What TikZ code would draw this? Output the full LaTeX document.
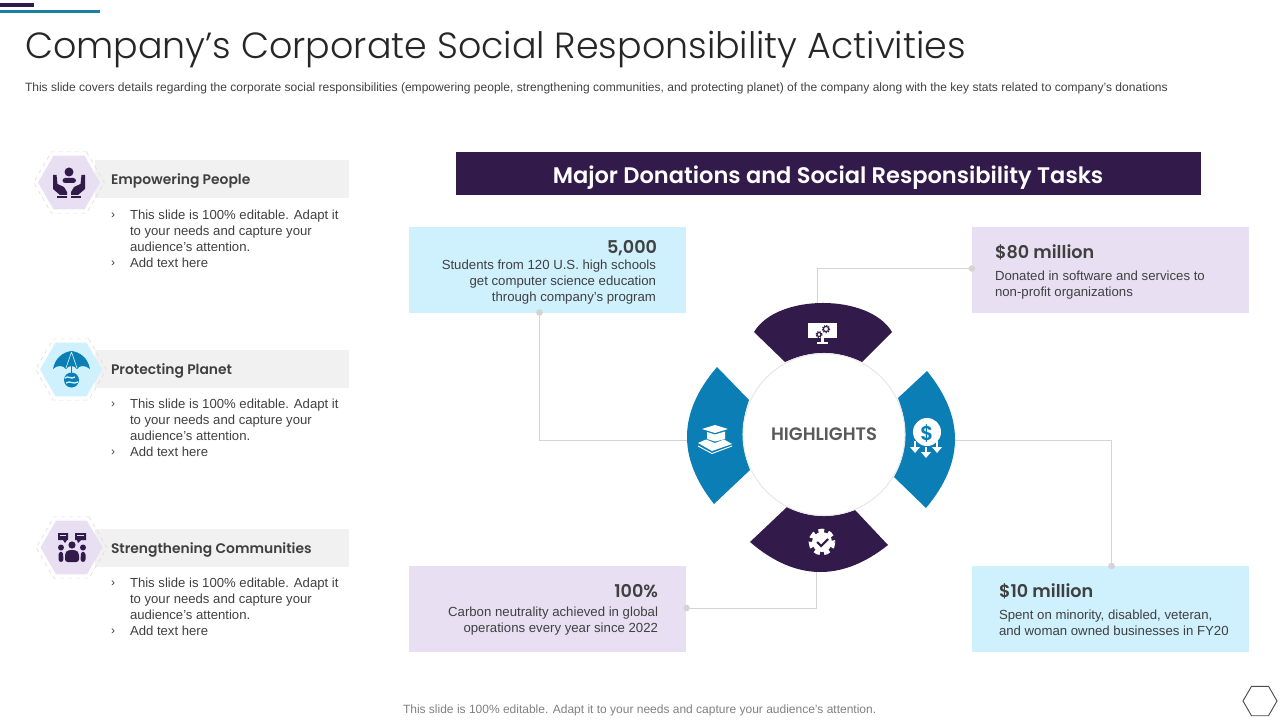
\documentclass[tikz,border=0pt]{standalone}
\usepackage{fontspec}
\setmainfont{Liberation Sans}
\newfontfamily\gothic{Poppins SemiBold}
\newfontfamily\gothicthin{Poppins Light}
\usetikzlibrary{shapes.geometric}
\definecolor{plum}{HTML}{321A4B}
\definecolor{seablue}{HTML}{0B7FB5}
\definecolor{teal2}{HTML}{1B7FA0}
\definecolor{skybox}{HTML}{CFF0FD}
\definecolor{lilac}{HTML}{E9DFF3}
\definecolor{barfill}{HTML}{F1F1F1}
\definecolor{inktxt}{HTML}{404040}
\definecolor{linkgray}{HTML}{D4D4D4}
\begin{document}
\begin{tikzpicture}[
  x=0.75pt, y=-0.75pt,
  every node/.style={inner sep=0pt, outer sep=0pt},
  bigbox/.style={minimum width=207.75pt, minimum height=64.5pt},
  headbar/.style={fill=barfill, minimum width=190.5pt, minimum height=28.5pt},
  hexfill/.style={regular polygon, regular polygon sides=6, minimum size=46.5pt},
  hexring/.style={regular polygon, regular polygon sides=6, minimum size=53pt, draw=black!13, dashed, line width=0.5pt},
  headtxt/.style={anchor=west, text=inktxt, font=\gothic\fontsize{10.4}{13}\selectfont},
  bodytxt/.style={anchor=north west, align=left, text=inktxt, font=\fontsize{9.85}{12}\selectfont},
  bullet/.style={anchor=west, text=inktxt, font=\fontsize{9}{12}\selectfont},
  stattxt/.style={text=inktxt, font=\gothic\fontsize{13.2}{16}\selectfont},
  boxtxt/.style={text=inktxt, font=\fontsize{9.9}{12}\selectfont},
  link/.style={draw=linkgray, line width=0.6pt},
  linkdot/.style={circle, fill=linkgray, minimum size=5pt}
]
\useasboundingbox (0,0) rectangle (1280,720);

% Corner bars
\fill[plum] (0,3) rectangle (34,7);
\fill[teal2] (0,10) rectangle (100,13);

% Title lines
\node[anchor=west, text=black!85, font=\gothicthin\fontsize{27.3}{32}\selectfont] (title) at (25,50) {Company’s Corporate Social Responsibility Activities};
\node[anchor=west, text=inktxt, font=\fontsize{9.03}{11}\selectfont] (subtitle) at (25,88) {This slide covers details regarding the corporate social responsibilities (empowering people, strengthening communities, and protecting planet) of the company along with the key stats related to company’s donations};

% Left column, first entry
\node[headbar] (peoplebar) at (222,179) {};
\node[hexring] (peoplering) at (69,182.5) {};
\node[hexfill, fill=lilac] (peoplehex) at (69,182.5) {};
\node[headtxt] (peoplehead) at (111,181) {Empowering People};
\node[bullet] (peoplea) at (111,215.5) {›};
\node[bullet] (peopleb) at (111,263.5) {›};
\node[bodytxt] (peopletxt) at (130,209.5) {This slide is 100\% editable. Adapt it\\to your needs and capture your\\audience's attention.\\Add text here};
\fill[plum] (69,172) circle (4.5);
\fill[plum, rounded corners=2pt] (62.5,183) -- (62.5,178) -- (76,178) -- (76,183) -- cycle;
\fill[plum] (53,175) -- (56.5,175) -- (57.5,184) -- (64,187) -- (67,192) -- (67,195) -- (60,195) -- (53,189) -- cycle;
\fill[plum] (85,175) -- (81.5,175) -- (80.5,184) -- (74,187) -- (71,192) -- (71,195) -- (78,195) -- (85,189) -- cycle;
\fill[plum] (57,196) rectangle (67,198);
\fill[plum] (71,196) rectangle (81,198);

% Left column, second entry
\node[headbar] (planetbar) at (222,369) {};
\node[hexring] (planetring) at (71,369.5) {};
\node[hexfill, fill=skybox] (planethex) at (71,369.5) {};
\node[headtxt] (planethead) at (111,371) {Protecting Planet};
\node[bullet] (planeta) at (111,404.5) {›};
\node[bullet] (planetb) at (111,452.5) {›};
\node[bodytxt] (planettxt) at (130,398.5) {This slide is 100\% editable. Adapt it\\to your needs and capture your\\audience's attention.\\Add text here};
\fill[seablue] (53,369) .. controls (55,358) and (63,352) .. (71.5,351) .. controls (80,352) and (88,358) .. (90,369) .. controls (85,365) and (80,365) .. (77,369) .. controls (74,365) and (69,365) .. (66,369) .. controls (63,365) and (57,365) .. (53,369) -- cycle;
\draw[skybox, line width=0.5pt] (71.5,352) -- (66,368) (71.5,352) -- (77,368);
\draw[seablue, line width=0.8pt] (71.5,366) -- (71.5,373);
\fill[seablue] (71.5,380) circle (7.5);
\draw[skybox, line width=1pt] (65,378) .. controls (68,375) and (71,380) .. (75,377) (66,383) .. controls (70,380) and (73,385) .. (78,382);

% Left column, third entry
\node[headbar] (peerbar) at (222,548) {};
\node[hexring] (peerring) at (71.5,547.5) {};
\node[hexfill, fill=lilac] (peerhex) at (71.5,547.5) {};
\node[headtxt] (peerhead) at (111,550) {Strengthening Communities};
\node[bullet] (peera) at (111,583.5) {›};
\node[bullet] (peerb) at (111,631.5) {›};
\node[bodytxt] (peertxt) at (130,577.5) {This slide is 100\% editable. Adapt it\\to your needs and capture your\\audience's attention.\\Add text here};
\fill[plum] (58,533) rectangle (68,540) (63,540) -- (67,540) -- (65,543) -- cycle;
\fill[plum] (75,533) rectangle (86,540) (77,540) -- (81,540) -- (78,543) -- cycle;
\draw[lilac, line width=0.6pt] (60,535.5) -- (66,535.5) (77,535.5) -- (84,535.5);
\fill[plum] (72,545) circle (3.6) (61,547.5) circle (3) (83,547.5) circle (3);
\fill[plum, rounded corners=2pt] (65,562) -- (65,553) -- (68,550) -- (76,550) -- (79,553) -- (79,562) -- cycle;
\fill[plum, rounded corners=2pt] (58.5,562) -- (58.5,552) -- (63,551.5) -- (63.5,562) -- cycle;
\fill[plum, rounded corners=2pt] (85.5,562) -- (85.5,552) -- (81,551.5) -- (80.5,562) -- cycle;

% Banner
\node[fill=plum, minimum width=558.75pt, minimum height=32.25pt] (banner) at (828.5,173.5) {};
\node[text=white, font=\gothic\fontsize{16.9}{20}\selectfont] (bannertxt) at (828,178) {Major Donations and Social Responsibility Tasks};

% Stat boxes
\node[bigbox, fill=skybox] (studentbox) at (547.5,270) {};
\node[bigbox, fill=lilac] (softwarebox) at (1110.5,270) {};
\node[bigbox, fill=lilac] (carbonbox) at (547.5,609) {};
\node[bigbox, fill=skybox] (minoritybox) at (1110.5,609) {};

\node[stattxt, anchor=east] (studentnum) at (657,248) {5,000};
\node[boxtxt, anchor=north east, align=right] (studenttxt) at (656,260) {Students from 120 U.S. high schools\\get computer science education\\through company’s program};
\node[stattxt, anchor=west] (softwarenum) at (995,252.5) {\$80 million};
\node[boxtxt, anchor=north west, align=left] (softwaretxt) at (995,271) {Donated in software and services to\\non-profit organizations};
\node[stattxt, anchor=east] (carbonnum) at (658,591.5) {100\%};
\node[boxtxt, anchor=north east, align=right] (carbontxt) at (658,607) {Carbon neutrality achieved in global\\operations every year since 2022};
\node[stattxt, anchor=west] (minoritynum) at (999,591.5) {\$10 million};
\node[boxtxt, anchor=north west, align=left] (minoritytxt) at (999,609.5) {Spent on minority, disabled, veteran,\\and woman owned businesses in FY20};

% Connector ends
\node[linkdot] (studentdot) at (539.5,312.5) {};
\node[linkdot] (softwaredot) at (972,268.5) {};
\node[linkdot] (carbondot) at (686.5,608) {};
\node[linkdot] (minoritydot) at (1111.5,566) {};
\coordinate (wheelleft) at (690,440.5);
\coordinate (wheeltop) at (817.5,305);
\coordinate (wheelright) at (952,440.5);
\coordinate (wheelbottom) at (816.5,570);

\draw[link] (studentdot) |- (wheelleft);
\draw[link] (wheeltop) |- (softwaredot);
\draw[link] (wheelright) -| (minoritydot);
\draw[link] (wheelbottom) |- (carbondot);

% Wheel segments
\fill[plum] (754,332) .. controls (777,293.3) and (869,293.3) .. (892,332) -- (862,362) .. controls (836,350) and (811,350) .. (785,362) -- cycle;
\fill[seablue] (717,367) .. controls (677.5,413) and (677.5,458) .. (714,504) -- (750,470) .. controls (740.8,447) and (740.8,423) .. (749,400) -- cycle;
\fill[seablue] (927,371) .. controls (964.5,417) and (964.5,462) .. (926,508) -- (894,477) .. controls (908,451) and (908,424) .. (898,398) -- cycle;
\fill[plum] (787,507) .. controls (810,518.5) and (832,518.5) .. (855,510) -- (888,545) .. controls (842,581.5) and (796,581.5) .. (750,542) -- cycle;

% Centre disc
\node[circle, fill=white, draw=black!9, line width=0.8pt, minimum size=121.5pt] (highlights) at (824,434.5) {};
\node[text=black!65, font=\gothic\fontsize{13.5}{15}\selectfont] (highlightstxt) at (824,434.5) {HIGHLIGHTS};

% Monitor icon
\fill[white] (808,322.5) rectangle (837,338);
\fill[white] (821,338) rectangle (824,342);
\fill[white] (817,342) rectangle (828,343.5);
\draw[plum, line width=0.8pt] (826,329) circle (2.6) (819,334.5) circle (2);
\draw[plum, line width=0.9pt, dash pattern=on 0.9pt off 0.9pt] (826,329) circle (3.6) (819,334.5) circle (3);

% Graduation icon
\fill[white] (702,429) -- (715,425) -- (728,429) -- (715,433) -- cycle;
\fill[white] (707,432) -- (715,434.5) -- (725,431.5) -- (725,439) -- (715,441.5) -- (707,439) -- cycle;
\fill[white] (698,443) -- (706,439.5) -- (715,443) -- (724,439.5) -- (732,444) -- (712,451) -- cycle;
\draw[white, line width=0.7pt] (698,446) -- (712,453.5) -- (732,446);

% Dollar icon
\fill[white] (927,432) circle (14);
\node[text=seablue, font=\gothic\fontsize{15}{17}\selectfont] (dollar) at (927,433) {\$};
\draw[white, line width=1.4pt] (915,441) -- (915,450) (926,447) -- (926,456) (937,441) -- (937,450);
\fill[white] (910,447) -- (920,447) -- (915,453) -- cycle;
\fill[white] (921,452) -- (931,452) -- (926,458) -- cycle;
\fill[white] (932,447) -- (942,447) -- (937,453) -- cycle;

% Gear icon
\fill[white] (822,542) circle (10);
\draw[white, line width=3.5pt, dash pattern=on 4.2pt off 3pt] (822,542) circle (11);
\draw[plum, line width=1.6pt] (817,542) -- (821,546) -- (828,539);

% Page mark
\node[regular polygon, regular polygon sides=6, minimum size=25.5pt, draw=black!70, line width=0.7pt] (pagemark) at (1260,701) {};

% Footer
\node[anchor=west, text=black!50, font=\fontsize{9}{11}\selectfont] (footer) at (403,710.5) {This slide is 100\% editable. Adapt it to your needs and capture your audience's attention.};

\end{tikzpicture}
\end{document}
